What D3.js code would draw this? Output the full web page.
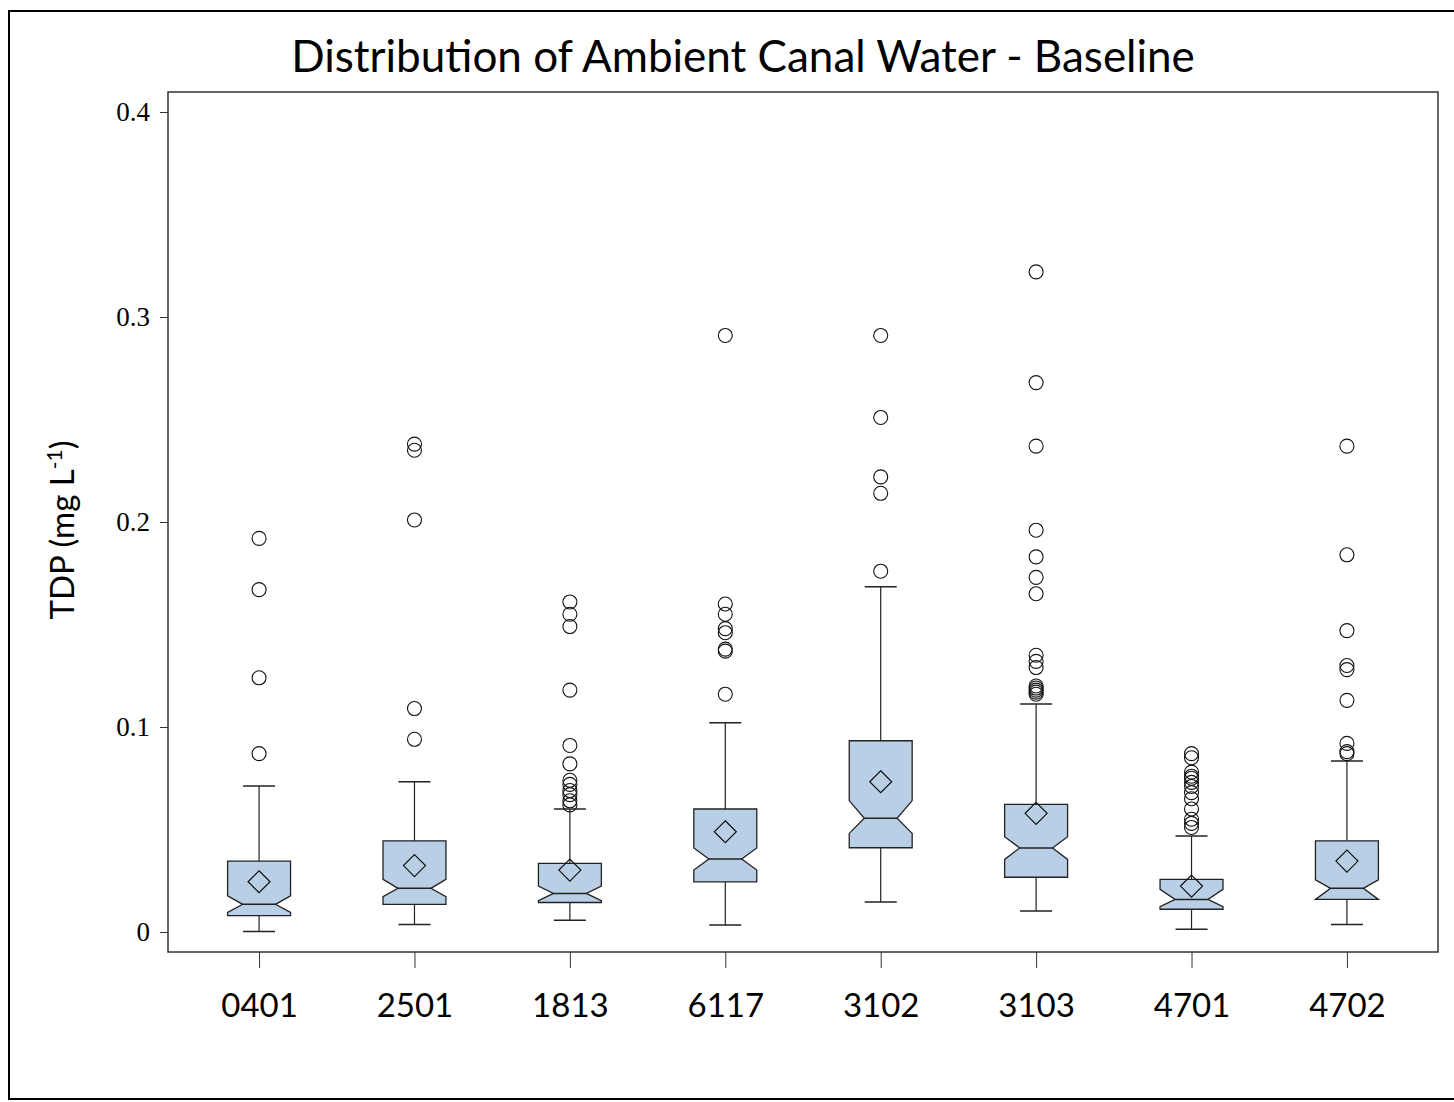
<!DOCTYPE html>
<html>
<head>
<meta charset="utf-8">
<script src="https://cdn.jsdelivr.net/npm/d3@7"></script>
<style>
  html, body { margin: 0; padding: 0; background: #fff; }
  svg { display: block; }
</style>
</head>
<body>
<svg id="chart" width="1454" height="1102"></svg>
<script>
// ---- data ----
const sites      = ["0401", "2501", "1813", "6117", "3102", "3103", "4701", "4702"];
const whiskerLo  = [0.0002, 0.0036, 0.0057, 0.0034, 0.0146, 0.0102, 0.0013, 0.0036];
const q1         = [0.0080, 0.0135, 0.0144, 0.0245, 0.0411, 0.0267, 0.0111, 0.0159];
const notchLo    = [0.0096, 0.0172, 0.0153, 0.0302, 0.0481, 0.0354, 0.0124, 0.0159];
const medians    = [0.0135, 0.0213, 0.0188, 0.0356, 0.0555, 0.0410, 0.0159, 0.0213];
const notchHi    = [0.0176, 0.0257, 0.0224, 0.0410, 0.0641, 0.0465, 0.0208, 0.0254];
const q3         = [0.0346, 0.0445, 0.0335, 0.0600, 0.0933, 0.0623, 0.0257, 0.0445];
const whiskerHi  = [0.0712, 0.0733, 0.0600, 0.1021, 0.1684, 0.1112, 0.0468, 0.0834];
const means      = [0.0245, 0.0324, 0.0302, 0.0489, 0.0733, 0.0579, 0.0224, 0.0346];
const outliers   = [
  [0.192, 0.167, 0.124, 0.087],
  [0.238, 0.235, 0.201, 0.109, 0.094],
  [0.161, 0.155, 0.149, 0.118, 0.091, 0.082, 0.074, 0.072, 0.069, 0.067, 0.064, 0.062],
  [0.291, 0.160, 0.155, 0.148, 0.146, 0.138, 0.137, 0.116],
  [0.291, 0.251, 0.222, 0.214, 0.176],
  [0.322, 0.268, 0.237, 0.196, 0.183, 0.173, 0.165, 0.135, 0.132, 0.129, 0.120, 0.119, 0.118, 0.117, 0.116],
  [0.087, 0.085, 0.078, 0.076, 0.075, 0.073, 0.071, 0.068, 0.065, 0.060, 0.055, 0.053, 0.051],
  [0.237, 0.184, 0.147, 0.130, 0.128, 0.113, 0.092, 0.088, 0.087]
];
const yTicks      = [0, 0.1, 0.2, 0.3, 0.4];
const yTickLabels = ["0", "0.1", "0.2", "0.3", "0.4"];
const titleText   = "Distribution of Ambient Canal Water - Baseline";

// ---- layout ----
const svg = d3.select("#chart");
const plot = { left: 168, right: 1438, top: 92, bottom: 952 };

const x = d3.scalePoint().domain(sites).range([plot.left, plot.right]).padding(0.586);
const y = d3.scaleLinear().domain([0, 0.4]).range([932, 112]);

const step = x.step();
const boxW = step * 0.405;
const capW = step * 0.206;
const inset = step * 0.097;
const fill = "#b9cfe6";

// outer frame
svg.append("rect").attr("x", 9).attr("y", 11).attr("width", 1470).attr("height", 1088)
  .attr("fill", "none").attr("stroke", "#000").attr("stroke-width", 2);

// title
svg.append("text").attr("x", 743).attr("y", 72).attr("text-anchor", "middle")
  .attr("font-family", "Lato, 'Open Sans', sans-serif").attr("font-size", 44)
  .attr("fill", "#000").text(titleText);

// plot frame
svg.append("rect").attr("x", plot.left).attr("y", plot.top)
  .attr("width", plot.right - plot.left).attr("height", plot.bottom - plot.top)
  .attr("fill", "none").attr("stroke", "#333").attr("stroke-width", 1.5);

// y axis
const yAxis = d3.axisLeft(y).tickValues(yTicks).tickFormat((d, i) => yTickLabels[i])
  .tickSize(8).tickPadding(10);
const gy = svg.append("g").attr("transform", `translate(${plot.left},0)`).call(yAxis);
gy.select(".domain").remove();
gy.selectAll(".tick line").attr("stroke", "#333");
gy.selectAll(".tick text").attr("font-family", "'Liberation Serif', 'Times New Roman', serif")
  .attr("font-size", 27).attr("fill", "#000");

// x axis
const xAxis = d3.axisBottom(x).tickSize(16).tickPadding(26);
const gx = svg.append("g").attr("transform", `translate(0,${plot.bottom})`).call(xAxis);
gx.select(".domain").remove();
gx.selectAll(".tick line").attr("stroke", "#333");
gx.selectAll(".tick text").attr("font-family", "Lato, 'Open Sans', sans-serif")
  .attr("font-size", 33).attr("fill", "#000");

// y title
const yt = svg.append("text").attr("transform", "translate(74,530) rotate(-90)")
  .attr("text-anchor", "middle").attr("font-family", "Lato, 'Open Sans', sans-serif")
  .attr("font-size", 33).attr("fill", "#000");
yt.append("tspan").text("TDP (mg L");
yt.append("tspan").attr("dy", -12).attr("font-size", 21).text("-1");
yt.append("tspan").attr("dy", 12).text(")");

// boxes
const g = svg.append("g");
sites.forEach((s, i) => {
  const cx = x(s);
  const L = cx - boxW / 2, R = cx + boxW / 2;
  // whiskers
  g.append("line").attr("x1", cx).attr("x2", cx).attr("y1", y(q3[i])).attr("y2", y(whiskerHi[i]))
    .attr("stroke", "#222").attr("stroke-width", 1.2);
  g.append("line").attr("x1", cx).attr("x2", cx).attr("y1", y(q1[i])).attr("y2", y(whiskerLo[i]))
    .attr("stroke", "#222").attr("stroke-width", 1.2);
  [whiskerHi[i], whiskerLo[i]].forEach(v => {
    g.append("line").attr("x1", cx - capW / 2).attr("x2", cx + capW / 2)
      .attr("y1", y(v)).attr("y2", y(v)).attr("stroke", "#222").attr("stroke-width", 1.5);
  });
  // notched box
  const nHi = Math.min(notchHi[i], q3[i]);
  const nLo = Math.max(notchLo[i], q1[i]);
  const pts = [
    [L, y(q3[i])], [R, y(q3[i])], [R, y(nHi)], [R - inset, y(medians[i])], [R, y(nLo)],
    [R, y(q1[i])], [L, y(q1[i])], [L, y(nLo)], [L + inset, y(medians[i])], [L, y(nHi)]
  ];
  g.append("path").attr("d", d3.line()(pts) + "Z").attr("fill", fill)
    .attr("stroke", "#222").attr("stroke-width", 1.3);
  g.append("line").attr("x1", L + inset).attr("x2", R - inset)
    .attr("y1", y(medians[i])).attr("y2", y(medians[i])).attr("stroke", "#222").attr("stroke-width", 1.5);
  // mean diamond
  const my = y(means[i]), d = 11;
  g.append("path").attr("d", `M${cx},${my - d}L${cx + d},${my}L${cx},${my + d}L${cx - d},${my}Z`)
    .attr("fill", "none").attr("stroke", "#111").attr("stroke-width", 1.2);
  // outliers
  g.selectAll(null).data(outliers[i]).enter().append("circle")
    .attr("cx", cx).attr("cy", v => y(v)).attr("r", 7)
    .attr("fill", "none").attr("stroke", "#111").attr("stroke-width", 1.1);
});
</script>
</body>
</html>
